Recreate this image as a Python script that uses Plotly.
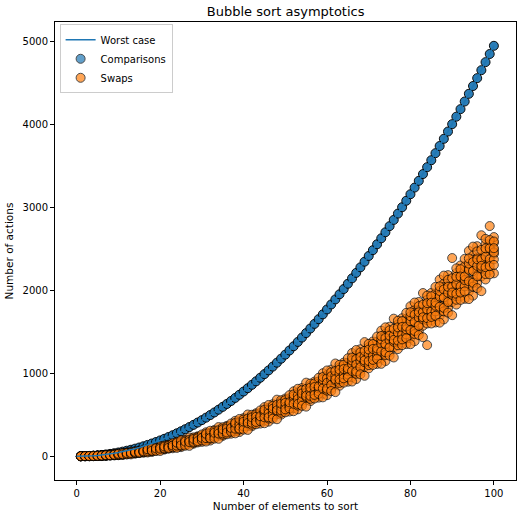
import plotly.graph_objects as go

# ---- data ----
sizes = list(range(1, 101))
worst_case_sizes = list(range(0, 101))
worst_case = [0, 0, 1, 3, 6, 10, 15, 21, 28, 36, 45, 55, 66, 78, 91, 105, 120, 136, 153, 171, 190,
              210, 231, 253, 276, 300, 325, 351, 378, 406, 435, 465, 496, 528, 561, 595, 630, 666,
              703, 741, 780, 820, 861, 903, 946, 990, 1035, 1081, 1128, 1176, 1225, 1275, 1326,
              1378, 1431, 1485, 1540, 1596, 1653, 1711, 1770, 1830, 1891, 1953, 2016, 2080, 2145,
              2211, 2278, 2346, 2415, 2485, 2556, 2628, 2701, 2775, 2850, 2926, 3003, 3081, 3160,
              3240, 3321, 3403, 3486, 3570, 3655, 3741, 3828, 3916, 4005, 4095, 4186, 4278, 4371,
              4465, 4560, 4656, 4753, 4851, 4950]
comparisons = [0, 1, 3, 6, 10, 15, 21, 28, 36, 45, 55, 66, 78, 91, 105, 120, 136, 153, 171, 190,
               210, 231, 253, 276, 300, 325, 351, 378, 406, 435, 465, 496, 528, 561, 595, 630, 666,
               703, 741, 780, 820, 861, 903, 946, 990, 1035, 1081, 1128, 1176, 1225, 1275, 1326,
               1378, 1431, 1485, 1540, 1596, 1653, 1711, 1770, 1830, 1891, 1953, 2016, 2080, 2145,
               2211, 2278, 2346, 2415, 2485, 2556, 2628, 2701, 2775, 2850, 2926, 3003, 3081, 3160,
               3240, 3321, 3403, 3486, 3570, 3655, 3741, 3828, 3916, 4005, 4095, 4186, 4278, 4371,
               4465, 4560, 4656, 4753, 4851, 4950]
# swap counts per array size (trials 1-5)
swaps_a = [
    [0, 0, 0, 0, 0], [1, 0, 1, 1, 0], [1, 3, 1, 2, 0], [5, 2, 3, 0, 4], [5, 6, 3, 8, 4],
    [9, 7, 13, 5, 8], [5, 14, 10, 12, 8], [10, 15, 20, 12, 17], [21, 10, 18, 23, 17], [20, 33, 17, 25, 15],
    [35, 23, 28, 15, 33], [32, 38, 24, 45, 29], [42, 37, 56, 31, 41], [32, 56, 44, 51, 38], [41, 56, 67, 47, 61],
    [67, 42, 61, 71, 58], [63, 91, 57, 74, 52], [92, 67, 76, 51, 88], [84, 96, 68, 108, 77], [101, 90, 127, 80, 98],
    [80, 123, 102, 115, 92], [96, 121, 140, 107, 130], [138, 96, 128, 145, 123], [130, 176, 120, 148, 112], [176, 135, 150, 109, 169],
    [160, 178, 135, 199, 149], [185, 168, 226, 152, 180], [151, 217, 184, 204, 169], [174, 211, 240, 190, 224], [234, 173, 220, 246, 212],
    [221, 288, 206, 247, 194], [285, 226, 248, 189, 276], [261, 287, 225, 316, 245], [294, 270, 351, 247, 287], [245, 336, 290, 319, 269],
    [275, 326, 366, 297, 344], [356, 272, 337, 371, 325], [336, 427, 316, 371, 300], [420, 341, 370, 292, 408], [386, 420, 338, 459, 364],
    [428, 397, 503, 366, 419], [361, 481, 421, 458, 393], [399, 466, 518, 428, 490], [503, 394, 478, 522, 463], [475, 592, 449, 521, 429],
    [581, 480, 518, 417, 565], [535, 579, 475, 628, 508], [587, 547, 682, 508, 575], [501, 652, 576, 623, 542], [547, 630, 696, 583, 660],
    [674, 539, 644, 699, 625], [638, 783, 606, 695, 581], [767, 643, 689, 565, 748], [709, 762, 635, 823, 675], [770, 722, 887, 674, 756],
    [664, 848, 756, 812, 713], [718, 820, 900, 762, 856], [871, 707, 834, 901, 812], [825, 1001, 787, 894, 756], [979, 830, 885, 736, 956],
    [907, 971, 818, 1044, 867], [978, 921, 1118, 863, 962], [850, 1069, 960, 1027, 909], [913, 1034, 1129, 965, 1077], [1093, 899, 1049, 1128, 1022],
    [1036, 1244, 991, 1118, 955], [1216, 1041, 1106, 930, 1189], [1130, 1205, 1026, 1290, 1082], [1212, 1144, 1376, 1076, 1192], [1060, 1316, 1188, 1267, 1129],
    [1132, 1273, 1384, 1192, 1323], [1340, 1113, 1288, 1381, 1257], [1272, 1514, 1220, 1366, 1178], [1480, 1276, 1351, 1147, 1448], [1377, 1464, 1256, 1562, 1322],
    [1470, 1392, 1659, 1314, 1447], [1292, 1588, 1440, 1531, 1372], [1374, 1536, 1664, 1444, 1594], [1611, 1352, 1552, 1659, 1517], [1532, 1809, 1472, 1640, 1424],
    [1767, 1534, 1620, 1387, 1730], [1648, 1748, 1511, 1860, 1586], [1752, 1663, 1968, 1574, 1727], [1340, 1885, 1717, 1821, 1640], [1640, 1825, 1969, 1719, 1890],
    [1908, 1613, 1841, 1962, 1801], [1816, 2130, 1748, 1939, 1693], [2081, 1817, 1914, 1650, 2039], [1944, 2057, 1789, 2184, 1873], [2060, 1959, 2390, 1859, 2031],
    [1829, 2208, 2018, 2135, 1931], [1930, 2137, 2301, 2019, 2212], [2229, 1898, 2154, 2290, 2109], [2124, 2476, 2048, 2262, 1986], [2419, 2124, 2232, 1937, 2372],
    [2264, 2391, 2090, 2533, 2185], [2392, 2280, 2665, 2168, 2360], [2132, 2556, 2344, 2474, 2246], [2244, 2475, 2776, 2343, 2558], [2576, 2206, 2492, 2643, 2441],
]
# swap counts per array size (trials 6-10)
swaps_b = [
    [0, 0, 0, 0, 0], [0, 1, 0, 0, 1], [2, 0, 2, 1, 3], [1, 4, 3, 6, 2], [5, 4, 7, 2, 6],
    [6, 8, 2, 10, 7], [16, 7, 11, 9, 13], [18, 13, 8, 16, 11], [15, 26, 18, 13, 19], [25, 12, 28, 20, 30],
    [20, 32, 27, 40, 22], [34, 28, 42, 21, 37], [36, 41, 22, 47, 37], [59, 35, 47, 40, 53], [64, 49, 38, 58, 44],
    [53, 78, 59, 49, 62], [73, 45, 79, 62, 84], [61, 86, 77, 102, 65], [87, 75, 103, 63, 94], [89, 100, 63, 110, 92],
    [130, 87, 108, 95, 118], [135, 110, 91, 124, 101], [115, 157, 125, 108, 130], [146, 100, 156, 128, 164], [124, 165, 150, 191, 131],
    [165, 147, 190, 126, 176], [166, 183, 125, 199, 171], [227, 161, 194, 174, 209], [232, 195, 166, 216, 182], [201, 262, 215, 189, 223],
    [244, 177, 259, 218, 271], [211, 270, 248, 307, 220], [267, 241, 303, 212, 283], [267, 291, 210, 314, 274], [350, 259, 305, 276, 326],
    [355, 304, 264, 333, 286], [310, 394, 329, 295, 341], [367, 276, 387, 332, 403], [321, 400, 371, 449, 333], [394, 360, 442, 321, 416],
    [392, 423, 317, 454, 401], [500, 380, 440, 403, 468], [504, 437, 385, 475, 413], [443, 552, 468, 424, 483], [515, 398, 541, 469, 561],
    [454, 555, 517, 618, 470], [546, 502, 606, 453, 573], [541, 581, 446, 620, 553], [675, 524, 600, 553, 634], [678, 595, 529, 642, 565],
    [601, 736, 631, 576, 650], [688, 543, 720, 631, 745], [611, 735, 689, 813, 630], [722, 669, 796, 608, 756], [715, 763, 598, 811, 729],
    [876, 692, 784, 728, 827], [878, 776, 696, 834, 740], [782, 946, 819, 752, 841], [886, 710, 924, 817, 955], [791, 940, 885, 1034, 814],
    [923, 859, 1012, 786, 963], [913, 970, 773, 1028, 929], [1103, 884, 993, 926, 1044], [1103, 982, 887, 1051, 939], [987, 1181, 1031, 952, 1058],
    [1109, 901, 1154, 1027, 1190], [995, 1170, 1105, 1281, 1022], [1148, 1073, 1252, 988, 1196], [1134, 1202, 970, 1270, 1154], [1355, 1099, 1227, 1148, 1286],
    [1353, 1212, 1101, 1293, 1162], [1216, 1443, 1268, 1175, 1299], [1356, 1114, 1408, 1262, 1450], [1221, 1425, 1350, 1554, 1253], [1398, 1311, 1519, 1213, 1453],
    [1380, 1458, 1191, 1536, 1403], [1634, 1338, 1486, 1395, 1554], [1629, 1467, 1339, 1559, 1409], [1470, 1729, 1529, 1422, 1564], [1628, 1351, 1688, 1520, 1736],
    [1473, 1706, 1620, 1853, 1510], [1673, 1573, 1810, 1461, 1735], [1651, 1740, 1435, 1829, 1676], [1937, 1601, 1769, 1665, 1846], [1930, 1745, 1601, 1851, 1680],
    [1747, 2042, 1814, 1693, 1854], [1925, 1611, 1993, 1802, 2048], [1747, 2011, 1914, 2178, 1789], [1972, 1859, 2127, 1732, 2043], [1945, 2046, 1701, 2146, 1974],
    [2266, 1887, 2077, 1960, 2164], [2256, 2049, 1885, 2167, 1974], [2049, 2380, 2124, 1988, 2169], [2247, 1895, 2323, 2109, 2385], [2046, 2341, 2233, 2528, 2093],
    [2296, 2169, 2470, 2027, 2375], [2264, 2376, 1991, 2488, 2296], [2621, 2197, 2409, 2279, 2507], [2607, 2376, 2194, 2508, 2293], [2374, 2590, 2458, 2307, 2509],
]
x_ticks = [0, 20, 40, 60, 80, 100]
y_ticks = [0, 1000, 2000, 3000, 4000, 5000]

BLUE = "#1f77b4"
ORANGE = "#ff7f0e"
FONT = "DejaVu Sans"

swap_x = [n for n, row in zip(sizes, swaps_a) for _ in row] + [n for n, row in zip(sizes, swaps_b) for _ in row]
swap_y = [v for row in swaps_a for v in row] + [v for row in swaps_b for v in row]

fig = go.Figure()

fig.add_trace(go.Scatter(
    x=sizes, y=comparisons, mode="markers", name="Comparisons", showlegend=False,
    marker=dict(size=9, color=BLUE, opacity=0.95, line=dict(color="black", width=1)),
))
fig.add_trace(go.Scatter(
    x=swap_x, y=swap_y, mode="markers", name="Swaps", legendrank=3,
    marker=dict(size=9, color=ORANGE, opacity=0.7, line=dict(color="black", width=1)),
))
fig.add_trace(go.Scatter(
    x=worst_case_sizes, y=worst_case, mode="lines", name="Worst case", legendrank=1,
    line=dict(color=BLUE, width=1.5),
))
# legend entry for comparisons (semi-transparent, as in the original legend)
fig.add_trace(go.Scatter(
    x=[None], y=[None], mode="markers", name="Comparisons", legendrank=2,
    marker=dict(size=9, color=BLUE, opacity=0.7, line=dict(color="black", width=1)),
))

axis_common = dict(
    showline=True, linecolor="black", linewidth=1, mirror=True,
    ticks="outside", ticklen=4, tickcolor="black", tickwidth=1,
    showgrid=False, zeroline=False, automargin=False,
    tickfont=dict(family=FONT, size=10, color="black"),
)

fig.update_layout(
    width=517, height=515,
    margin=dict(l=55, r=1, t=22, b=35),
    paper_bgcolor="white", plot_bgcolor="white",
    title=dict(text="Bubble sort asymptotics", x=0.5525, xanchor="center", y=0.977, yanchor="middle",
               font=dict(family=FONT, size=13, color="black")),
    font=dict(family=FONT, color="black"),
    xaxis=dict(range=[-5.2, 105.3], tickvals=x_ticks, ticktext=[str(t) for t in x_ticks],
               title=dict(text="Number of elements to sort", font=dict(family=FONT, size=10.5), standoff=4),
               **axis_common),
    yaxis=dict(range=[-287, 5237], tickvals=y_ticks, ticktext=[str(t) for t in y_ticks],
               title=dict(text="Number of actions", font=dict(family=FONT, size=10.5), standoff=6),
               **axis_common),
    legend=dict(x=0.01, y=0.995, xanchor="left", yanchor="top",
                bgcolor="rgba(255,255,255,0.85)", bordercolor="#cccccc", borderwidth=1,
                font=dict(family=FONT, size=10, color="black"),
                itemwidth=30, tracegroupgap=0),
    showlegend=True,
)

fig.write_html(
    "out.html",
    config={"displayModeBar": False},
    post_script="document.body.style.margin='0';document.body.style.overflow='hidden';",
)
